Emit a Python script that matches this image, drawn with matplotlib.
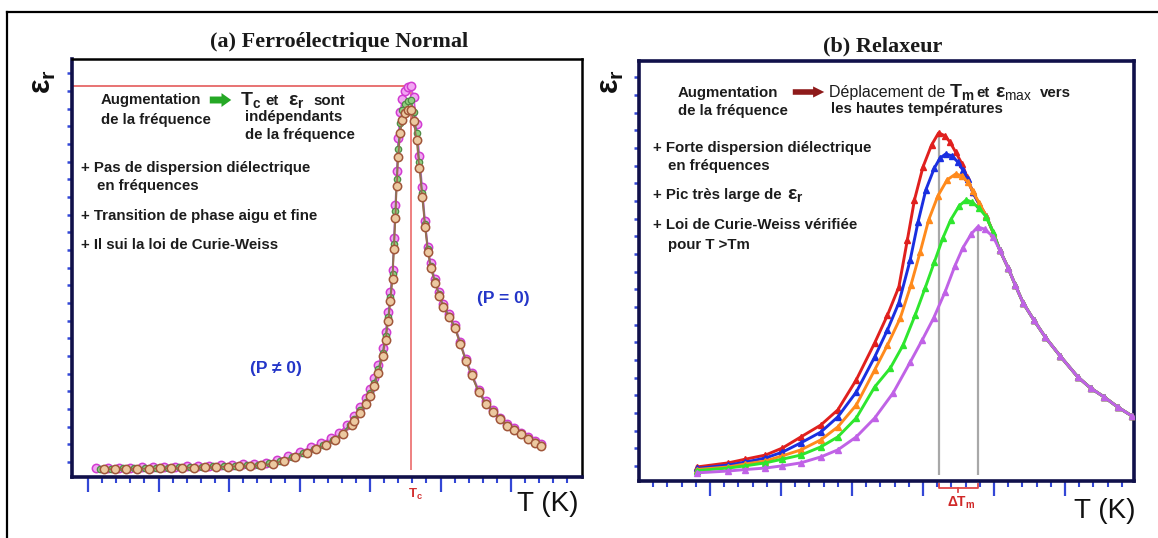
import numpy as np
import matplotlib
matplotlib.use("Agg")
import matplotlib.pyplot as plt
import matplotlib.transforms as mtransforms
from matplotlib.lines import Line2D
from matplotlib.patches import FancyArrowPatch
from matplotlib.ticker import FixedLocator

plt.rcParams['font.family'] = ['Liberation Sans', 'DejaVu Sans']
plt.rcParams['mathtext.fontset'] = 'custom'
plt.rcParams['mathtext.rm'] = 'Liberation Sans'
plt.rcParams['mathtext.it'] = 'Liberation Sans:italic'
plt.rcParams['mathtext.bf'] = 'Liberation Sans:bold'
plt.rcParams['mathtext.sf'] = 'Liberation Sans'

# ---------------- (a) normal ferroelectric: three measuring frequencies ----------------
T_mag = [106, 114, 122, 130, 138, 146, 154, 162, 170, 178, 186, 194, 202, 210, 218, 226,
         234, 242, 250, 258, 265, 272, 278, 284, 289, 293, 297, 300, 303, 306, 309, 311,
         313, 314.5, 316, 317, 318, 319, 320, 321.5, 323, 325, 327, 329, 331, 333, 335,
         337, 339, 341, 343, 346, 349, 352, 356, 360, 364, 368, 372, 377, 382, 387, 392,
         397, 402, 407, 412, 417, 421]
eps_mag = [240, 246, 250, 255, 260, 265, 272, 280, 290, 300, 310, 320, 332, 345, 360, 390,
           460, 560, 680, 800, 910, 1040, 1190, 1410, 1660, 1900, 2130, 2370, 2660, 3020,
           3480, 3920, 4450, 5000, 5600, 6450, 7350, 8250, 9150, 9850, 10200, 10420, 10540,
           10557, 10250, 9520, 8680, 7820, 6920, 6220, 5780, 5350, 5000, 4670, 4410, 4100,
           3650, 3180, 2810, 2350, 2040, 1810, 1600, 1430, 1310, 1190, 1070, 970, 880]

T_grn = [108.5, 116.5, 124.5, 132.5, 140.5, 148.5, 156.5, 164.5, 172.5, 180.5, 188.5, 196.5,
         204.5, 212.5, 220.5, 228.5, 236.5, 244.5, 252.5, 260, 267, 274, 280, 285.5, 289,
         293, 297, 300, 303, 306, 309, 311, 313, 314.5, 316, 317, 318, 319, 320, 321.5, 323,
         325, 327, 329, 331, 333, 335, 337, 339, 341, 343, 346, 349, 352, 356, 360, 364, 368,
         372, 377, 382, 387, 392, 397, 402, 407, 412, 417, 421]
eps_grn = [224, 229, 234, 239, 243, 248, 254, 263, 273, 282, 290, 298, 308, 318, 333, 370,
           440, 535, 660, 760, 875, 1010, 1170, 1400, 1560, 1800, 2030, 2260, 2550, 2910,
           3360, 3800, 4320, 4870, 5470, 6300, 7180, 8050, 8850, 9550, 9900, 10080, 10160,
           10179, 9850, 9300, 8500, 7680, 6830, 6150, 5700, 5290, 4940, 4610, 4360, 4060,
           3610, 3140, 2770, 2310, 2000, 1780, 1580, 1410, 1290, 1170, 1050, 950, 864]

T_brn = [111, 119, 127, 135, 143, 151, 159, 167, 175, 183, 191, 199, 207, 215, 223, 231,
         239, 247, 255, 262, 269, 275.5, 281, 287, 289, 293, 297, 300, 303, 306, 309, 311,
         313, 314.5, 316, 317, 318, 319, 320, 321.5, 323, 325, 327, 329, 331, 333, 335, 337,
         339, 341, 343, 346, 349, 352, 356, 360, 364, 368, 372, 377, 382, 387, 392, 397, 402,
         407, 412, 417, 421]
eps_brn = [210, 214, 219, 223, 227, 232, 239, 247, 255, 262, 270, 279, 289, 300, 318, 360,
           440, 545, 660, 760, 870, 1000, 1160, 1410, 1500, 1740, 1960, 2190, 2470, 2820,
           3260, 3700, 4200, 4750, 5350, 6150, 7000, 7850, 8650, 9300, 9650, 9820, 9900,
           9909, 9600, 9100, 8350, 7550, 6750, 6080, 5650, 5250, 4900, 4580, 4330, 4030,
           3590, 3120, 2750, 2290, 1980, 1760, 1560, 1390, 1270, 1150, 1030, 930, 845]

# ---------------- (b) relaxor: five frequencies, low -> high ----------------
T_red = [241, 263, 275, 289, 301, 314, 328, 340, 353, 366, 375, 383, 389, 394, 400, 406, 411,
         415.5, 419, 423, 427.5, 431, 435, 439.5, 444.5, 449.5, 454, 460, 465, 470.5, 478,
         486, 496.5, 509, 518, 527.5, 537, 547]
eps_red = [380, 490, 590, 700, 890, 1190, 1510, 1920, 2730, 3730, 4480, 5240, 6510, 7590,
           8480, 9070, 9400, 9320, 9150, 8880, 8560, 8210, 7800, 7480, 7160, 6700, 6240,
           5750, 5290, 4810, 4350, 3890, 3380, 2810, 2510, 2270, 2000, 1760]

T_blue = [241, 263, 275, 289, 301, 314, 328, 340, 353, 366, 375, 383, 391, 396.5, 402, 408,
          412, 416, 420.5, 424.5, 428, 431.5, 435, 439.5, 444.5, 449.5, 454, 460, 465, 470.5,
          478, 486, 496.5, 509, 518, 527.5, 537, 547]
eps_blue = [340, 430, 510, 620, 780, 1030, 1320, 1730, 2400, 3350, 4080, 4810, 5970, 6990,
            7860, 8450, 8720, 8830, 8780, 8610, 8400, 8150, 7800, 7480, 7160, 6700, 6240,
            5750, 5290, 4810, 4350, 3890, 3380, 2810, 2510, 2270, 2000, 1760]

T_orange = [241, 263, 275, 289, 301, 314, 328, 340, 353, 366, 375, 384, 391.5, 398, 404,
            410.5, 417, 423, 427.5, 431.5, 435, 439.5, 444.5, 449.5, 454, 460, 465, 470.5,
            478, 486, 496.5, 509, 518, 527.5, 537, 547]
eps_orange = [310, 380, 460, 540, 680, 840, 1110, 1460, 2050, 3000, 3670, 4400, 5290, 6180,
              7050, 7700, 8130, 8290, 8240, 8070, 7830, 7510, 7160, 6700, 6240, 5750, 5290,
              4810, 4350, 3890, 3380, 2810, 2510, 2270, 2000, 1760]

T_green = [241, 263, 275, 289, 301, 314, 328, 340, 353, 366, 377, 386, 394.5, 401.5, 408,
           414, 419.5, 425.5, 430.5, 434.5, 439.5, 444.5, 449.5, 454, 460, 465, 470.5, 478,
           486, 496.5, 509, 518, 527.5, 537, 547]
eps_green = [280, 350, 410, 490, 590, 700, 920, 1190, 1700, 2540, 3050, 3670, 4480, 5210,
             5910, 6560, 7050, 7430, 7590, 7530, 7370, 7130, 6720, 6240, 5750, 5290, 4810,
             4350, 3890, 3380, 2810, 2510, 2270, 2000, 1760]

T_violet = [241, 263, 275, 289, 301, 314, 328, 340, 353, 366, 379, 391, 399.5, 407.5, 415.5,
            422.5, 428, 434, 438.5, 443.5, 449.5, 454, 460, 465, 470.5, 478, 486, 496.5, 509,
            518, 527.5, 537, 547]
eps_violet = [220, 270, 310, 350, 410, 490, 650, 840, 1190, 1700, 2380, 3210, 3810, 4400,
              5100, 5810, 6290, 6670, 6860, 6800, 6590, 6240, 5750, 5290, 4810, 4350, 3890,
              3380, 2810, 2510, 2270, 2000, 1760]

W, H = 1158, 538
fig = plt.figure(figsize=(W / 100, H / 100), dpi=100)
renderer = fig.canvas.get_renderer()


def ftext(x, y, s, **kw):
    kw.setdefault('va', 'center')
    kw.setdefault('ha', 'left')
    return fig.text(x / W, 1 - y / H, s, **kw)


def run_line(x, y_base, pieces):
    """Lay text pieces side by side on one baseline (pixel units)."""
    for s, gap, kw in pieces:
        t = ftext(x, y_base, s, va='baseline', **kw)
        bb = t.get_window_extent(renderer)
        x = bb.x1 + gap


def farrow(x0, x1, y, color, tail, head, hl):
    a = FancyArrowPatch((x0 / W, 1 - y / H), (x1 / W, 1 - y / H), transform=fig.transFigure,
                        arrowstyle=f'simple,tail_width={tail},head_width={head},head_length={hl}',
                        color=color, mutation_scale=1, lw=0)
    fig.add_artist(a)


TICK_BLUE = '#3347d6'
NAVY = '#10104a'
INK = '#1c1c1c'

axL = fig.add_axes([72 / W, 1 - 477 / H, 510 / W, 418 / H])
axR = fig.add_axes([639 / W, 1 - 481 / H, 495 / W, 420 / H])

for ax, ytop in ((axL, 11286), (axR, 11340)):
    ax.set_ylim(0, ytop)
    ax.yaxis.set_major_locator(FixedLocator(np.arange(405, 11000, 477)))
    ax.tick_params(axis='y', which='major', direction='out', length=3.8, width=1.8,
                   color=TICK_BLUE, labelleft=False)
    ax.tick_params(axis='x', which='major', direction='out', length=10.5, width=1.6,
                   color=TICK_BLUE, labelbottom=False)
    ax.tick_params(axis='x', which='minor', direction='out', length=4.3, width=1.5,
                   color=TICK_BLUE)

axL.set_xlim(88.65, 450.35)
axL.xaxis.set_major_locator(FixedLocator(np.arange(100, 401, 50)))
axL.xaxis.set_minor_locator(FixedLocator([t for t in range(110, 441, 10) if t % 50]))
axR.set_xlim(200, 548.6)
axR.xaxis.set_major_locator(FixedLocator(np.arange(250, 501, 50)))
axR.xaxis.set_minor_locator(FixedLocator([t for t in range(210, 541, 10) if t % 50]))

for side in ('left', 'bottom'):
    axL.spines[side].set_color(NAVY)
    axL.spines[side].set_linewidth(2.6)
for side in ('top', 'right'):
    axL.spines[side].set_color('black')
    axL.spines[side].set_linewidth(1.8)
for side in ('left', 'bottom', 'top', 'right'):
    axR.spines[side].set_color(NAVY)
    axR.spines[side].set_linewidth(2.6)

# ---- panel (a) curves ----
axL.plot(T_mag, eps_mag, color='#d94fd9', lw=1.3, marker='o', ms=6.0, mfc='#f2a6f2',
         mec='#d13cd1', mew=1.1, zorder=3)
axL.plot(T_grn, eps_grn, color='#5f8f55', lw=1.3, marker='o', ms=4.6, mfc='#8fcf7f',
         mec='#4f8a45', mew=0.9, zorder=4)
axL.plot(T_brn, eps_brn, color='#9c6a55', lw=1.2, marker='o', ms=6.0, mfc='#ecc9a0',
         mec='#a0563a', mew=1.1, zorder=5)

i_pk = int(np.argmax(eps_mag))
Tc, eps_pk = T_mag[i_pk], eps_mag[i_pk]
axL.hlines(eps_pk, axL.get_xlim()[0], Tc, color='#e87272', lw=1.4, zorder=2)
axL.vlines(Tc, 190, eps_pk, color='#ee8080', lw=1.4, zorder=2)
blendL = mtransforms.blended_transform_factory(axL.transData, axL.transAxes)
axL.text(Tc + 3, -0.042, r'$\mathbf{T_c}$', transform=blendL, color='#d23030',
         fontsize=9.5, ha='center', va='center')

# ---- panel (b) curves ----
relax = [
    (T_red, eps_red, '#e0201e'),
    (T_blue, eps_blue, '#1a2fe0'),
    (T_orange, eps_orange, '#ff8a1c'),
    (T_green, eps_green, '#2ee62e'),
    (T_violet, eps_violet, '#c062e6'),
]
for T, e, c in relax:
    axR.plot(T, e, color=c, lw=2.1, marker='^', ms=4.0, mec=c, mfc=c, zorder=3)

Tm_lo = T_red[int(np.argmax(eps_red))]
Tm_hi = T_violet[int(np.argmax(eps_violet))]
axR.vlines(Tm_lo, 160, max(eps_red), color='#a8a8a8', lw=1.6, zorder=2)
axR.vlines(Tm_hi, 160, max(eps_violet), color='#a8a8a8', lw=1.6, zorder=2)

blendR = mtransforms.blended_transform_factory(axR.transData, axR.transAxes)
Tmid = 0.5 * (Tm_lo + Tm_hi)
br = dict(color='#e04848', lw=1.3, transform=blendR, clip_on=False)
axR.add_line(Line2D([Tm_lo, Tm_lo, Tm_hi, Tm_hi], [-0.006, -0.017, -0.017, -0.006], **br))
axR.add_line(Line2D([Tmid, Tmid], [-0.017, -0.025], **br))
axR.text(Tmid + 2, -0.052, r'$\mathbf{\Delta T_m}$', transform=blendR, color='#d02828',
         fontsize=10, ha='center', va='center')

# ---- titles, axis names ----
ftext(339, 42, '(a) Ferroélectrique Normal', ha='center', fontsize=16,
      family='Liberation Serif', fontweight='bold', color='#1a1a1a')
ftext(883, 46, '(b) Relaxeur', ha='center', fontsize=16,
      family='Liberation Serif', fontweight='bold', color='#1a1a1a')
for x, y in ((43, 82), (611, 82)):
    ftext(x, y, r'$\mathbf{\varepsilon_r}$', ha='center', rotation=90, fontsize=22,
          color='#111111')
ftext(548, 504, 'T (K)', ha='center', fontsize=20, color='#111111')
ftext(1105, 511, 'T (K)', ha='center', fontsize=20, color='#111111')

# ---- panel (a) annotations ----
kb = dict(fontsize=10.8, fontweight='bold', color=INK)
big = dict(fontsize=14, color=INK)
ftext(101, 100, 'Augmentation', **kb)
ftext(101, 120, 'de la fréquence', **kb)
farrow(207, 234, 100, '#25a825', 5, 10, 7)
run_line(240, 105, [(r'$\mathbf{T_c}$', 4, big), ('et', 10, kb),
                    (r'$\mathbf{\varepsilon_r}$', 8, big), ('sont', 0, kb)])
ftext(245, 117, 'indépendants', **kb)
ftext(245, 135, 'de la fréquence', **kb)
ftext(81, 168, '+ Pas de dispersion diélectrique', **kb)
ftext(97, 186, 'en fréquences', **kb)
ftext(81, 216, '+ Transition de phase aigu et fine', **kb)
ftext(81, 245, '+ Il sui la loi de Curie-Weiss', **kb)
ftext(503, 298, '(P = 0)', ha='center', fontsize=12.5, fontweight='bold', color='#2436c8')
ftext(276, 368, '(P ≠ 0)', ha='center', fontsize=12.5, fontweight='bold', color='#2436c8')

# ---- panel (b) annotations ----
ftext(678, 93, 'Augmentation', **kb)
ftext(678, 111, 'de la fréquence', **kb)
farrow(790, 827, 92, '#8e1a1a', 4, 8, 8)
run_line(829, 97, [('Déplacement de', 4, dict(fontsize=11.5, color=INK)),
                   (r'$\mathbf{T_m}$', 2, big), ('et', 5, kb),
                   (r'$\mathbf{\varepsilon}_{\mathrm{max}}$', 8, big), ('vers', 0, kb)])
ftext(831, 109, 'les hautes températures', **kb)
ftext(653, 148, '+ Forte dispersion diélectrique', **kb)
ftext(668, 166, 'en fréquences', **kb)
run_line(653, 199, [('+ Pic très large de', 5, kb), (r'$\mathbf{\varepsilon_r}$', 0, big)])
ftext(653, 225, '+ Loi de Curie-Weiss vérifiée', **kb)
ftext(668, 245, 'pour T >Tm', **kb)

# outer frame
fig.add_artist(Line2D([7 / W, 7 / W], [1 - 12 / H, 0], color='black', lw=1.6,
                      transform=fig.transFigure))
fig.add_artist(Line2D([7 / W, 1], [1 - 12 / H, 1 - 12 / H], color='black', lw=1.6,
                      transform=fig.transFigure))

fig.savefig('out.png', dpi=100, facecolor='white')
